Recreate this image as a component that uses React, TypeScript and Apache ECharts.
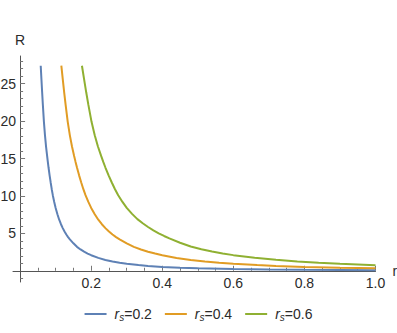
import React, { useEffect, useRef } from 'react';
import * as echarts from 'echarts';

// r_s = 0.2
const rBlue = [0.058, 0.06, 0.062, 0.064, 0.067, 0.07, 0.073, 0.076, 0.078, 0.08, 0.083, 0.086, 0.089, 0.092, 0.096, 0.1, 0.105, 0.11, 0.115, 0.12, 0.125, 0.13, 0.135, 0.14, 0.15, 0.16, 0.17, 0.18, 0.19, 0.2, 0.22, 0.24, 0.26, 0.28, 0.3, 0.333, 0.36, 0.4, 0.45, 0.5, 0.6, 0.7, 0.8, 0.9, 1.0];
const RBlue = [27.4, 25.6, 23.85, 22.2, 19.9, 18.1, 16.6, 15.35, 14.55, 13.8, 12.75, 11.8, 10.9, 10.1, 9.2, 8.4, 7.55, 6.82, 6.22, 5.7, 5.25, 4.85, 4.5, 4.2, 3.67, 3.2, 2.85, 2.55, 2.3, 2.08, 1.72, 1.45, 1.24, 1.07, 0.94, 0.76, 0.65, 0.52, 0.41, 0.34, 0.235, 0.17, 0.13, 0.105, 0.085];
// r_s = 0.4
const rOrange = [0.116, 0.12, 0.124, 0.128, 0.134, 0.14, 0.146, 0.152, 0.156, 0.16, 0.166, 0.172, 0.178, 0.184, 0.192, 0.2, 0.21, 0.22, 0.23, 0.24, 0.25, 0.26, 0.27, 0.28, 0.3, 0.32, 0.34, 0.36, 0.38, 0.4, 0.44, 0.48, 0.52, 0.56, 0.6, 0.667, 0.72, 0.8, 0.9, 1.0];
const ROrange = [27.4, 25.6, 23.85, 22.2, 19.9, 18.1, 16.6, 15.35, 14.55, 13.8, 12.75, 11.8, 10.9, 10.1, 9.2, 8.4, 7.55, 6.82, 6.22, 5.7, 5.25, 4.85, 4.5, 4.2, 3.67, 3.2, 2.85, 2.55, 2.3, 2.08, 1.72, 1.45, 1.24, 1.07, 0.94, 0.76, 0.65, 0.52, 0.41, 0.34];
// r_s = 0.6
const rGreen = [0.174, 0.18, 0.186, 0.192, 0.201, 0.21, 0.219, 0.228, 0.234, 0.24, 0.249, 0.258, 0.267, 0.276, 0.288, 0.3, 0.315, 0.33, 0.345, 0.36, 0.375, 0.39, 0.405, 0.42, 0.45, 0.48, 0.51, 0.54, 0.57, 0.6, 0.66, 0.72, 0.78, 0.84, 0.9, 1.0];
const RGreen = [27.4, 25.6, 23.85, 22.2, 19.9, 18.1, 16.6, 15.35, 14.55, 13.8, 12.75, 11.8, 10.9, 10.1, 9.2, 8.4, 7.6, 6.9, 6.35, 5.85, 5.4, 5.0, 4.65, 4.32, 3.75, 3.25, 2.88, 2.57, 2.31, 2.09, 1.73, 1.46, 1.24, 1.07, 0.94, 0.74];

const seriesNames = ['rs=0.2', 'rs=0.4', 'rs=0.6'];
const legendValues = ['0.2', '0.4', '0.6'];
const colors = ['#5E81B5', '#E19C24', '#8FB032'];

const xMajorTicks = [0.2, 0.4, 0.6, 0.8, 1.0];
const xMinorTicks = [0.05, 0.1, 0.15, 0.25, 0.3, 0.35, 0.45, 0.5, 0.55, 0.65, 0.7, 0.75, 0.85, 0.9, 0.95];
const yMajorTicks = [5, 10, 15, 20, 25];
const yMinorTicks = [-1, 1, 2, 3, 4, 6, 7, 8, 9, 11, 12, 13, 14, 16, 17, 18, 19, 21, 22, 23, 24, 26, 27, 28];

const FONT = '"Liberation Sans", Arial, sans-serif';
const AXIS_COLOR = '#555';
const TICK_COLOR = '#777';
const LABEL_COLOR = '#2b2b2b';

const X_MIN = -0.02;
const X_MAX = 1.0;
const Y_MIN = -1.5;
const Y_MAX = 28.7;

export default function App() {
  const ref = useRef<HTMLDivElement>(null);

  useEffect(() => {
    if (!ref.current) return;
    const chart = echarts.init(ref.current, undefined, { renderer: 'svg' });

    const xs = [rBlue, rOrange, rGreen];
    const ys = [RBlue, ROrange, RGreen];

    const option: any = {
      animation: false,
      backgroundColor: '#ffffff',
      grid: {
        left: 13,
        right: 21.5,
        top: 56,
        bottom: 51,
        containLabel: false,
        outerBoundsMode: 'none',
      },
      legend: {
        data: seriesNames,
        top: 307,
        left: 'center',
        padding: 0,
        icon: 'rect',
        itemWidth: 22,
        itemHeight: 2,
        itemGap: 13,
        formatter: (name: string) => {
          const i = seriesNames.indexOf(name);
          return '{i|r}{s|s}{n|=' + legendValues[i] + '}';
        },
        textStyle: {
          color: LABEL_COLOR,
          fontFamily: FONT,
          fontSize: 14,
          rich: {
            i: { fontStyle: 'italic', fontSize: 14, fontFamily: FONT, color: LABEL_COLOR, padding: [0, 0, 0, 3] },
            s: { fontStyle: 'italic', fontSize: 10, fontFamily: FONT, color: LABEL_COLOR, padding: [7, 0, 0, 0] },
            n: { fontSize: 14, fontFamily: FONT, color: LABEL_COLOR },
          },
        },
      },
      xAxis: [
        {
          type: 'value',
          min: X_MIN,
          max: X_MAX,
          position: 'bottom',
          axisLine: { show: true, onZero: true, onZeroAxisIndex: 0, lineStyle: { color: AXIS_COLOR, width: 1 } },
          axisTick: { show: true, inside: true, length: 5, customValues: xMajorTicks, lineStyle: { color: TICK_COLOR, width: 1 } },
          axisLabel: {
            show: true,
            customValues: xMajorTicks,
            formatter: (v: number) => v.toFixed(1),
            margin: -6,
            color: LABEL_COLOR,
            fontSize: 14,
            fontFamily: FONT,
          },
          splitLine: { show: false },
          name: 'r',
          nameLocation: 'end',
          nameGap: 17,
          nameTextStyle: { color: LABEL_COLOR, fontSize: 14, fontFamily: FONT, align: 'left', verticalAlign: 'middle' },
        },
        {
          type: 'value',
          min: X_MIN,
          max: X_MAX,
          position: 'bottom',
          axisLine: { show: false, onZero: true, onZeroAxisIndex: 0 },
          axisTick: { show: true, inside: true, length: 3, customValues: xMinorTicks, lineStyle: { color: TICK_COLOR, width: 1 } },
          axisLabel: { show: false },
          splitLine: { show: false },
        },
      ],
      yAxis: [
        {
          type: 'value',
          min: Y_MIN,
          max: Y_MAX,
          position: 'left',
          axisLine: { show: true, onZero: true, onZeroAxisIndex: 0, lineStyle: { color: AXIS_COLOR, width: 1 } },
          axisTick: { show: true, inside: true, length: 5, customValues: yMajorTicks, lineStyle: { color: TICK_COLOR, width: 1 } },
          axisLabel: {
            show: true,
            customValues: yMajorTicks,
            margin: -3,
            color: LABEL_COLOR,
            fontSize: 14,
            fontFamily: FONT,
          },
          splitLine: { show: false },
          name: 'R',
          nameLocation: 'end',
          nameGap: 16,
          nameTextStyle: { color: LABEL_COLOR, fontSize: 14, fontFamily: FONT, align: 'center', verticalAlign: 'middle' },
        },
        {
          type: 'value',
          min: Y_MIN,
          max: Y_MAX,
          position: 'left',
          axisLine: { show: false, onZero: true, onZeroAxisIndex: 0 },
          axisTick: { show: true, inside: true, length: 3, customValues: yMinorTicks, lineStyle: { color: TICK_COLOR, width: 1 } },
          axisLabel: { show: false },
          splitLine: { show: false },
        },
      ],
      series: seriesNames.map((name, k) => ({
        name,
        type: 'line',
        xAxisIndex: 0,
        yAxisIndex: 0,
        data: xs[k].map((r, i) => [r, ys[k][i]]),
        showSymbol: false,
        symbol: 'none',
        smooth: false,
        color: colors[k],
        lineStyle: { color: colors[k], width: 2 },
      })),
    };

    chart.setOption(option);
    return () => chart.dispose();
  }, []);

  return (
    <div
      ref={ref}
      style={{ position: 'fixed', left: 0, top: 0, width: 397, height: 333 }}
    />
  );
}
